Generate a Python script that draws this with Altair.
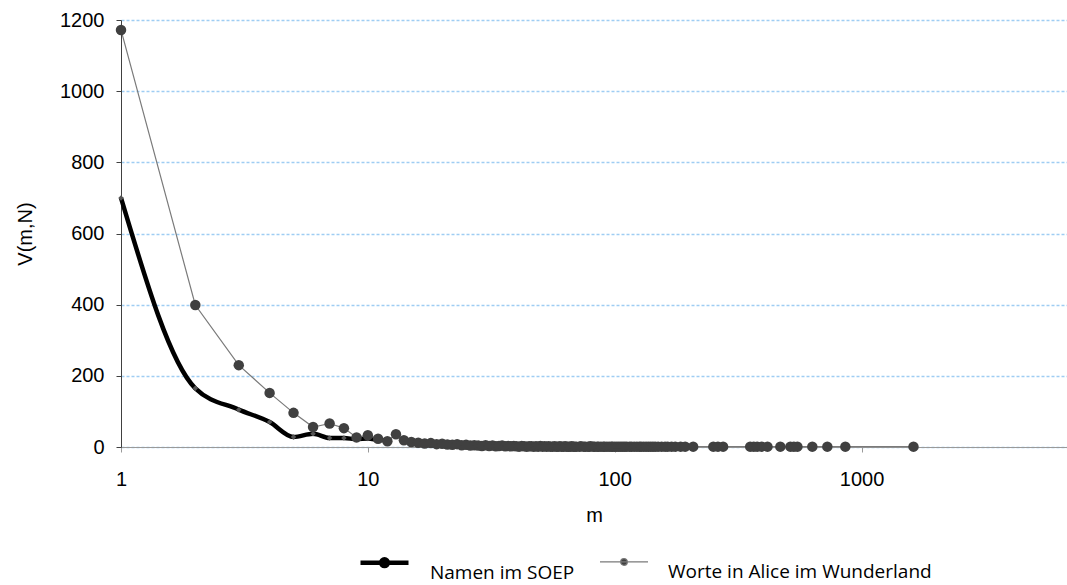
import altair as alt
import pandas as pd

SOEP = "Namen im SOEP"
ALICE = "Worte in Alice im Wunderland"

# Namen im SOEP
soep_m = [1, 2, 3, 4, 5, 6, 7, 8, 9, 10, 11, 12]
soep_v = [700, 165, 105, 70, 28, 37, 25, 25, 22, 24, 20, 18]

# Worte in Alice im Wunderland
alice_m = [1, 2, 3, 4, 5, 6, 7, 8, 9, 10, 11, 12, 13,
           14, 15, 16, 17, 18, 19, 20, 21, 22, 23,
           24, 25, 26, 27, 28, 29, 30, 31, 32, 33,
           34, 35, 36, 37, 38, 39, 40, 41, 42, 43,
           44, 45, 46, 47, 48, 49, 50, 51, 52, 53,
           54, 55, 56, 57, 58, 59, 60, 61, 62, 63,
           64, 65, 66, 67, 68, 69, 70,
           72, 73, 75, 76, 78, 79, 80, 82, 83, 85, 86, 88, 90, 91, 93, 95, 97, 98, 100,
           102, 104, 106, 108, 110, 112, 115, 117, 120, 123, 126, 128, 131, 134, 137, 140, 143, 146, 150,
           155, 160, 164, 170, 176, 185, 193, 208,
           251, 262, 275,
           354, 366, 378, 394, 416, 469, 515, 532, 550,
           632, 727, 860, 1624]
alice_v = [1172, 399, 230, 152, 96, 56, 66, 53, 27, 33, 23, 16, 36,
           19, 14, 12, 10, 11, 8, 9, 7, 6, 8,
           5, 6, 4, 5, 4, 3, 5, 3, 4, 2,
           3, 4, 2, 3, 2, 3, 2, 1, 3, 2,
           1, 2, 2, 1, 2, 1, 3, 1, 2, 1,
           2, 1, 1, 2, 1, 1, 2, 1, 1, 2,
           1, 1, 1, 2, 1, 1, 1,
           1, 2, 1, 1, 1, 1, 2, 1, 1, 1, 1, 1, 1, 1, 1, 1, 1, 1, 1,
           1, 1, 1, 1, 1, 1, 1, 1, 1, 1, 1, 1, 1, 1, 1, 1, 1, 1, 1,
           1, 1, 1, 1, 1, 1, 1, 1,
           1, 1, 1,
           1, 1, 1, 1, 1, 1, 1, 1, 1,
           1, 1, 1, 1]

x_ticks = [1, 10, 100, 1000]
y_ticks = [0, 200, 400, 600, 800, 1000, 1200]

soep = pd.DataFrame({"m": soep_m, "v": soep_v, "series": SOEP})
alice = pd.DataFrame({"m": alice_m, "v": alice_v, "series": ALICE})

AX_FONT = "Liberation Sans"

x = alt.X(
    "m:Q",
    scale=alt.Scale(type="log", domain=[1, 6800], nice=False),
    axis=alt.Axis(
        values=x_ticks, format="d", title="m", grid=False,
        labelFont=AX_FONT, labelFontSize=20, labelColor="#000",
        titleFont=AX_FONT, titleFontSize=20, titleFontWeight="normal", titleColor="#000",
        domainColor="#9a9a9a", tickColor="#9a9a9a", tickSize=5,
        labelPadding=17, titlePadding=16, labelFlush=False,
    ),
)
y = alt.Y(
    "v:Q",
    scale=alt.Scale(domain=[0, 1200], nice=False),
    axis=alt.Axis(
        values=y_ticks, format="d", title="V(m,N)", grid=True,
        gridColor="#9fcdf3", gridDash=[3, 2], gridWidth=1.3,
        labelFont=AX_FONT, labelFontSize=20, labelColor="#000",
        titleFont=AX_FONT, titleFontSize=20, titleFontWeight="normal", titleColor="#000",
        domainColor="#404040", tickColor="#404040", tickSize=5,
        labelPadding=12, titlePadding=24,
    ),
)

# legend symbol: a horizontal line with a marker, drawn above the label centre
legend_path = ("M-1,-0.42L1,-0.42"
               "M-0.14,-0.42A0.14,0.14,0,1,1,0.14,-0.42A0.14,0.14,0,1,1,-0.14,-0.42Z")

legend = alt.Legend(
    title=None, orient="none", direction="horizontal",
    legendX=237, legendY=526, padding=0,
    symbolType=legend_path, symbolSize=2304,
    labelFont="Open Sans", labelFontSize=19, labelColor="#000", labelLimit=400,
    labelOffset=19, columnPadding=22, labelBaseline="middle",
    symbolFillColor="#404040",
)

color = alt.Color("series:N", scale=alt.Scale(domain=[SOEP, ALICE], range=["#000000", "#7a7a7a"]), legend=legend)
swidth = alt.StrokeWidth("series:N", scale=alt.Scale(domain=[SOEP, ALICE], range=[4.5, 1.2]), legend=legend)

soep_line = alt.Chart(soep).mark_line(interpolate="monotone").encode(x=x, y=y, color=color, strokeWidth=swidth)
soep_pts = alt.Chart(soep).mark_point(shape="diamond", filled=True, size=30, color="#555555", opacity=1).encode(x=x, y=y)
alice_line = alt.Chart(alice).mark_line().encode(x=x, y=y, color=color, strokeWidth=swidth)
alice_pts = alt.Chart(alice).mark_circle(size=110, color="#404040", opacity=1).encode(x=x, y=y)

chart = alt.layer(soep_line, soep_pts, alice_line, alice_pts).properties(
    width=946, height=427,
    autosize=alt.AutoSizeParams(type="none"),
    padding={"left": 121, "top": 20, "right": 0, "bottom": 138},
    background="white",
).configure_view(stroke=None)

chart.save("out.html", embed_options={"renderer": "svg", "actions": False})
